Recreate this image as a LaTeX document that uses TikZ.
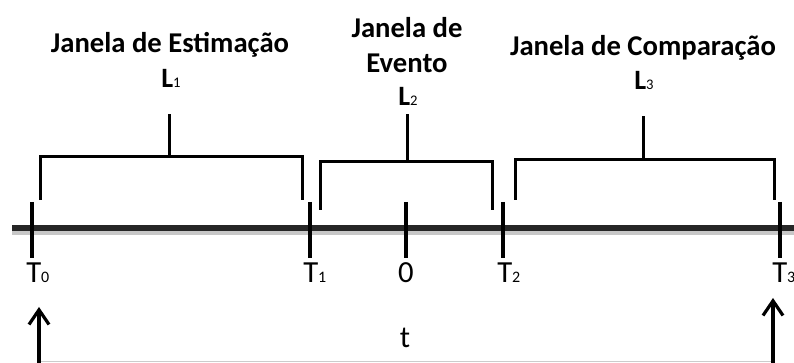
\documentclass[tikz,border=0pt]{standalone}
\usepackage{fontspec}
\setmainfont{Carlito}
\usetikzlibrary{arrows.meta}
\tikzset{
  title/.style={font=\bfseries\fontsize{21.5}{26}\selectfont, align=center, inner sep=0pt},
  lenlabel/.style={font=\bfseries\fontsize{21}{25}\selectfont, inner sep=0pt},
  ticklabel/.style={font=\fontsize{23}{27}\selectfont, inner sep=0pt, anchor=base west},
  bracket/.style={line width=2.25pt, line join=miter},
  tickmark/.style={line width=3pt},
  axis/.style={line width=5pt, black!85},
  axisshadow/.style={line width=6pt, black!22},
  marker/.style={line width=2.4pt, -{Straight Barb[length=11pt, width=15pt, line width=2.4pt]}},
}
\newcommand{\tsub}[1]{{\fontsize{12}{14}\selectfont #1}}
\newcommand{\lsub}[1]{{\mdseries\fontsize{11}{13}\selectfont #1}}
\begin{document}
\begin{tikzpicture}[x=0.75pt, y=-0.75pt]
  \useasboundingbox (0,0) rectangle (794,363);

  % time axis with a soft shadow
  \draw[axisshadow] (12,231) -- (794,231);
  \draw[axis] (12,228) -- (794,228);

  % tick positions
  \coordinate (t0) at (32,228);
  \coordinate (t1) at (310,228);
  \coordinate (tz) at (406,228);
  \coordinate (t2) at (503,228);
  \coordinate (t3) at (780,228);
  \foreach \p in {t0,t1,tz,t2,t3}
    \draw[tickmark] ([yshift=19.5pt]\p) -- ([yshift=-22.5pt]\p);

  % tick labels
  \node[ticklabel] (lt0) at (26,283) {T\tsub{0}};
  \node[ticklabel] (lt1) at (303,283) {T\tsub{1}};
  \node[ticklabel, anchor=base] (ltz) at (406,283) {0};
  \node[ticklabel] (lt2) at (497,283) {T\tsub{2}};
  \node[ticklabel] (lt3) at (772,283) {T\tsub{3}};

  % window titles
  \node[title] (w1) at (170,45) {Janela de Estimação};
  \node[lenlabel, anchor=base] (l1) at (171,88) {L\lsub{1}};
  \node[title] (w2) at (407,45) {Janela de\\Evento};
  \node[lenlabel, anchor=base] (l2) at (408,106) {L\lsub{2}};
  \node[title] (w3) at (643,48) {Janela de Comparação};
  \node[lenlabel, anchor=base] (l3) at (644,90) {L\lsub{3}};

  % brackets spanning each window
  \draw[bracket] (40,200) -- (40,157) -- (302,157) -- (302,200);
  \draw[bracket] (169,157) -- (169,114);
  \draw[bracket] (320,210) -- (320,162) -- (492,162) -- (492,210);
  \draw[bracket] (407,162) -- (407,114);
  \draw[bracket] (515,200) -- (515,160) -- (774,160) -- (774,200);
  \draw[bracket] (643,160) -- (643,116);

  % interval markers
  \coordinate (a0) at (39,363);
  \coordinate (a3) at (773,363);
  \coordinate (h0) at (39,307);
  \coordinate (h3) at (773,298);
  \draw[black!20, line width=0.75pt] ([yshift=0.75pt]a0) -- ([yshift=0.75pt]a3);
  \draw[marker] (a0) -- (h0);
  \draw[marker] (a3) -- (h3);
  \node[ticklabel, anchor=base] (tl) at (405,348) {t};
\end{tikzpicture}
\end{document}
